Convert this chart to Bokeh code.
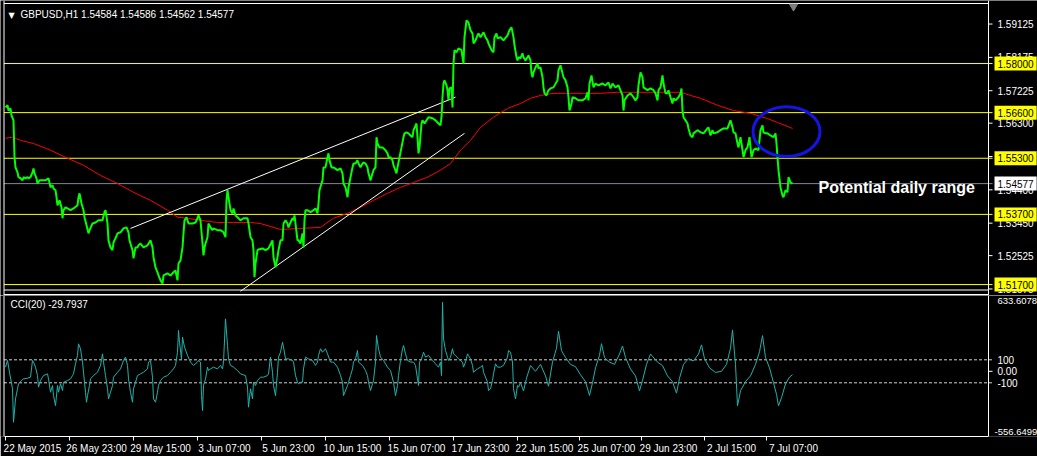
from bokeh.plotting import figure
from bokeh.layouts import column
from bokeh.models import Range1d, FixedTicker, LinearAxis, Span, Label
from bokeh.core.properties import value
from bokeh.embed import file_html
from bokeh.resources import INLINE

# ---------------- data ----------------
symbol_title = "GBPUSD,H1  1.54584 1.54586 1.54562 1.54577"
cci_title = "CCI(20) -29.7937"
note_text = "Potential daily range"

price_bar = [
    0, 2, 3, 5, 6, 8, 9, 10, 12, 13,
    15, 17, 18, 20, 22, 23, 25, 27, 28, 29,
    31, 32, 34, 37, 40, 43, 45, 47, 48, 50,
    51, 52, 54, 56, 57, 58, 60, 62, 65, 68,
    72, 73, 74, 76, 78, 79, 81, 83, 84, 87,
    90, 93, 97, 99, 100, 102, 103, 105, 107, 108,
    110, 112, 115, 118, 121, 123, 124, 127, 128, 130,
    132, 133, 135, 138, 142, 145, 147, 148, 150, 152,
    153, 155, 157, 158, 162, 165, 168, 170, 171, 172,
    173, 175, 177, 178, 179, 181, 183, 187, 190, 192,
    193, 195, 197, 198, 199, 200, 202, 203, 205, 207,
    208, 212, 215, 218, 220, 221, 222, 223, 225, 227,
    228, 230, 232, 233, 235, 238, 242, 243, 245, 247,
    248, 249, 250, 252, 253, 257, 260, 263, 267, 268,
    270, 272, 273, 275, 277, 278, 280, 282, 283, 285,
    287, 288, 289, 290, 292, 293, 295, 297, 298, 299,
    300, 302, 305, 308, 310, 312, 313, 314, 316, 317,
    318, 320, 322, 323, 324, 326, 328, 332, 335, 337,
    338, 340, 342, 343, 345, 347, 348, 350, 352, 353,
    355, 357, 358, 360, 362, 363, 365, 367, 368, 370,
    371, 372, 374, 377, 380, 382, 383, 385, 387, 388,
    391, 392, 394, 396, 398, 399, 401, 403, 405, 407,
    408, 411, 412, 413, 414, 416, 417, 419, 421, 423,
    427, 430, 433, 435, 436, 437, 438, 439, 441, 442,
    443, 444, 446, 447, 448, 449, 451, 453, 456, 457,
    458, 459, 461, 463, 465, 467, 468, 470, 472, 473,
    475, 478, 480, 482, 483, 486, 488, 489, 491, 492,
    495, 498, 502, 504, 506, 508, 509, 511, 512, 513,
    515, 517, 518, 520, 522, 523, 525, 526, 527, 528,
    530, 532, 533, 535, 537, 538, 539, 541, 543, 545,
    548, 552, 553, 555, 557, 558, 560, 562, 563, 564,
    566, 567, 570, 573, 577, 580, 582, 583, 584, 586,
    588, 590, 593, 597, 600, 603, 605, 607, 610, 613,
    617, 618, 619, 622, 625, 628, 630, 632, 633, 635,
    637, 638, 642, 645, 648, 650, 652, 653, 655, 657,
    658, 660, 662, 663, 665, 667, 668, 670, 673, 675,
    676, 677, 678, 680, 682, 683, 685, 687, 688, 692,
    695, 698, 702, 703, 705, 707, 708, 712, 715, 718,
    722, 725, 727, 728, 730, 732, 733, 735, 737, 738,
    740, 742, 744, 746, 748, 750, 753, 755, 757, 758,
    760, 762, 765, 768, 770, 771, 772, 773, 775, 777,
    778, 780, 782, 783, 785, 787,
]
price_close = [
    1.5675, 1.5681, 1.5666, 1.5672, 1.5652, 1.5638, 1.5533, 1.5504, 1.5490, 1.5476,
    1.5473, 1.5467, 1.5476, 1.5473, 1.5476, 1.5473, 1.5476, 1.5490, 1.5501, 1.5487,
    1.5473, 1.5458, 1.5467, 1.5467, 1.5467, 1.5473, 1.5447, 1.5453, 1.5444, 1.5439,
    1.5419, 1.5396, 1.5410, 1.5390, 1.5359, 1.5382, 1.5390, 1.5387, 1.5382, 1.5387,
    1.5396, 1.5419, 1.5430, 1.5401, 1.5382, 1.5362, 1.5339, 1.5316, 1.5325, 1.5344,
    1.5347, 1.5353, 1.5353, 1.5376, 1.5382, 1.5344, 1.5296, 1.5276, 1.5268, 1.5290,
    1.5302, 1.5316, 1.5319, 1.5330, 1.5333, 1.5319, 1.5296, 1.5268, 1.5245, 1.5276,
    1.5276, 1.5282, 1.5287, 1.5276, 1.5282, 1.5296, 1.5276, 1.5248, 1.5219, 1.5205,
    1.5196, 1.5182, 1.5173, 1.5196, 1.5202, 1.5196, 1.5205, 1.5210, 1.5196, 1.5182,
    1.5230, 1.5239, 1.5276, 1.5316, 1.5353, 1.5362, 1.5344, 1.5344, 1.5347, 1.5359,
    1.5367, 1.5353, 1.5287, 1.5253, 1.5276, 1.5287, 1.5305, 1.5344, 1.5333, 1.5325,
    1.5330, 1.5325, 1.5325, 1.5319, 1.5305, 1.5410, 1.5439, 1.5419, 1.5382, 1.5373,
    1.5387, 1.5367, 1.5362, 1.5359, 1.5353, 1.5359, 1.5359, 1.5344, 1.5305, 1.5296,
    1.5268, 1.5191, 1.5230, 1.5268, 1.5270, 1.5273, 1.5268, 1.5273, 1.5296, 1.5248,
    1.5219, 1.5248, 1.5268, 1.5296, 1.5296, 1.5344, 1.5353, 1.5344, 1.5333, 1.5347,
    1.5359, 1.5353, 1.5367, 1.5344, 1.5296, 1.5296, 1.5287, 1.5316, 1.5276, 1.5353,
    1.5382, 1.5382, 1.5376, 1.5382, 1.5387, 1.5373, 1.5401, 1.5439, 1.5458, 1.5467,
    1.5504, 1.5504, 1.5533, 1.5544, 1.5524, 1.5504, 1.5504, 1.5496, 1.5501, 1.5487,
    1.5458, 1.5447, 1.5419, 1.5447, 1.5476, 1.5504, 1.5515, 1.5515, 1.5524, 1.5515,
    1.5504, 1.5515, 1.5518, 1.5515, 1.5504, 1.5487, 1.5467, 1.5487, 1.5496, 1.5504,
    1.5590, 1.5572, 1.5561, 1.5561, 1.5553, 1.5544, 1.5533, 1.5533, 1.5524, 1.5510,
    1.5487, 1.5504, 1.5533, 1.5561, 1.5590, 1.5601, 1.5604, 1.5601, 1.5595, 1.5590,
    1.5610, 1.5629, 1.5590, 1.5544, 1.5561, 1.5629, 1.5638, 1.5629, 1.5638, 1.5647,
    1.5644, 1.5638, 1.5629, 1.5624, 1.5647, 1.5704, 1.5743, 1.5752, 1.5738, 1.5724,
    1.5695, 1.5729, 1.5732, 1.5675, 1.5800, 1.5838, 1.5832, 1.5843, 1.5838, 1.5818,
    1.5800, 1.5875, 1.5923, 1.5917, 1.5895, 1.5886, 1.5857, 1.5866, 1.5880, 1.5886,
    1.5875, 1.5889, 1.5875, 1.5866, 1.5857, 1.5838, 1.5832, 1.5875, 1.5886, 1.5872,
    1.5875, 1.5866, 1.5880, 1.5895, 1.5903, 1.5875, 1.5852, 1.5818, 1.5809, 1.5818,
    1.5815, 1.5829, 1.5818, 1.5809, 1.5818, 1.5823, 1.5809, 1.5772, 1.5761, 1.5775,
    1.5789, 1.5800, 1.5786, 1.5789, 1.5761, 1.5732, 1.5715, 1.5709, 1.5724, 1.5729,
    1.5732, 1.5752, 1.5781, 1.5795, 1.5772, 1.5761, 1.5752, 1.5732, 1.5704, 1.5666,
    1.5686, 1.5704, 1.5701, 1.5695, 1.5695, 1.5701, 1.5718, 1.5695, 1.5743, 1.5766,
    1.5732, 1.5743, 1.5738, 1.5743, 1.5738, 1.5746, 1.5729, 1.5743, 1.5732, 1.5738,
    1.5709, 1.5666, 1.5695, 1.5709, 1.5715, 1.5704, 1.5695, 1.5704, 1.5738, 1.5775,
    1.5761, 1.5732, 1.5724, 1.5729, 1.5724, 1.5715, 1.5695, 1.5724, 1.5732, 1.5766,
    1.5743, 1.5715, 1.5715, 1.5724, 1.5704, 1.5686, 1.5701, 1.5695, 1.5704, 1.5715,
    1.5729, 1.5666, 1.5647, 1.5638, 1.5629, 1.5615, 1.5595, 1.5590, 1.5601, 1.5610,
    1.5604, 1.5601, 1.5615, 1.5618, 1.5595, 1.5610, 1.5601, 1.5604, 1.5610, 1.5615,
    1.5615, 1.5638, 1.5618, 1.5604, 1.5601, 1.5572, 1.5561, 1.5590, 1.5553, 1.5533,
    1.5553, 1.5561, 1.5590, 1.5533, 1.5553, 1.5558, 1.5553, 1.5610, 1.5624, 1.5604,
    1.5601, 1.5601, 1.5595, 1.5590, 1.5601, 1.5572, 1.5533, 1.5496, 1.5447, 1.5424,
    1.5419, 1.5439, 1.5433, 1.5476, 1.5461, 1.54577,
]

ma_bar = [0, 7, 15, 28, 45, 62, 78, 95, 112, 128,
          145, 162, 172, 182, 195, 212, 228, 245, 255, 275,
          295, 315, 328, 342, 355, 368, 382, 395, 408, 422,
          435, 445, 455, 465, 475, 488, 502, 515, 525, 535,
          548, 562, 578, 595, 612, 628, 645, 662, 675, 685,
          695, 712, 728, 745, 762, 772, 787]
ma_value = [1.5587, 1.5590, 1.5581, 1.5572, 1.5553, 1.5530, 1.5510, 1.5481, 1.5458, 1.5433,
            1.5410, 1.5382, 1.5362, 1.5359, 1.5353, 1.5347, 1.5347, 1.5347, 1.5344, 1.5327,
            1.5330, 1.5333, 1.5359, 1.5373, 1.5390, 1.5410, 1.5430, 1.5447, 1.5461, 1.5476,
            1.5496, 1.5515, 1.5553, 1.5581, 1.5618, 1.5647, 1.5672, 1.5686, 1.5701, 1.5709,
            1.5715, 1.5715, 1.5715, 1.5715, 1.5718, 1.5718, 1.5718, 1.5718, 1.5718, 1.5709,
            1.5701, 1.5681, 1.5666, 1.5658, 1.5643, 1.5632, 1.5615]

level_prices = [1.58000, 1.56600, 1.55300, 1.53700, 1.51700]
current_price = 1.54577

upper_trend_bar = [125, 450]
upper_trend_price = [1.5330, 1.5704]
lower_trend_bar = [235, 459]
lower_trend_price = [1.5151, 1.5601]

ellipse_bar = [781]
ellipse_price = [1.5606]
ellipse_span_bars = 67
ellipse_span_price = 0.0142

price_ticks = [1.59125, 1.58175, 1.57225, 1.56300, 1.55350, 1.54400, 1.53450, 1.52525, 1.51575]

cci_bar = [
    0, 2, 4, 7, 8, 10, 12, 13, 16, 18,
    22, 25, 27, 28, 30, 32, 33, 35, 37, 38,
    42, 43, 45, 47, 48, 50, 52, 53, 55, 57,
    58, 62, 65, 67, 68, 70, 72, 73, 75, 77,
    78, 80, 81, 82, 84, 85, 88, 92, 95, 97,
    98, 100, 102, 103, 105, 107, 108, 112, 115, 118,
    120, 122, 123, 125, 127, 128, 130, 132, 135, 138,
    142, 143, 145, 147, 148, 150, 152, 153, 155, 158,
    162, 165, 168, 170, 172, 173, 174, 176, 177, 179,
    182, 185, 188, 192, 193, 195, 196, 197, 198, 200,
    202, 203, 205, 208, 212, 215, 217, 218, 220, 222,
    223, 225, 228, 232, 235, 240, 242, 243, 245, 247,
    248, 250, 252, 255, 258, 262, 263, 265, 267, 268,
    270, 272, 273, 275, 277, 278, 280, 283, 287, 288,
    290, 292, 293, 295, 297, 298, 300, 303, 307, 310,
    312, 313, 315, 317, 320, 322, 325, 328, 332, 335,
    337, 338, 342, 343, 345, 347, 348, 350, 352, 353,
    357, 360, 362, 363, 365, 367, 368, 370, 371, 373,
    375, 378, 382, 385, 388, 390, 392, 393, 395, 397,
    398, 400, 402, 405, 408, 410, 412, 413, 414, 416,
    418, 420, 423, 427, 430, 433, 435, 436, 437, 438,
    440, 442, 443, 445, 447, 448, 450, 453, 457, 458,
    460, 462, 463, 465, 467, 468, 472, 475, 477, 478,
    482, 483, 485, 487, 488, 490, 492, 495, 498, 502,
    503, 505, 507, 508, 510, 512, 513,
    515, 518, 521, 525, 530, 535, 540, 543, 547, 551,
    553, 556, 560, 565, 570, 575, 580, 584, 587, 590,
    594, 596, 599, 604, 609, 614, 617, 620, 625, 630,
    634, 637, 641, 645, 647, 652, 657, 662, 667, 671,
    674, 678, 683, 688, 693, 696, 699, 704, 710, 716,
    721, 725, 727, 730, 732, 735, 740, 745, 750, 754,
    757, 760, 764, 768, 771, 773, 776, 780, 784, 787,
]
cci_value = [
    36, 94, -8, -152, -443, -240, -152, -109, -80, -66,
    -60, -51, 94, 80, 36, -37, -138, -80, -51, -37,
    -22, -66, -182, -124, -211, -298, -124, -182, -109, -167,
    -95, -80, -66, -37, -22, 65, 138, 239, 196, 80,
    -8, -182, -269, -211, -124, -66, -37, -8, 51, 152,
    80, -37, -152, -240, -182, -124, -51, -8, 21, 94,
    123, 51, -66, -182, -269, -152, -95, -37, -22, -8,
    21, 80, 94, -51, -240, -269, -182, -124, -80, -51,
    -37, -8, 21, 51, 166, 355, 253, 108, 297, 210,
    138, 80, 51, 80, 94, 80, -211, -341, -124, -66,
    36, 7, 21, 36, 21, 51, 21, 80, 456, 224,
    108, 51, 36, 7, -22, -37, -138, -312, -152, -240,
    -95, -124, -80, -51, -51, -37, -22, 123, -8, -124,
    -211, -8, 123, 166, 253, 210, 108, 108, 94, 80,
    -37, -95, -109, -95, -95, 21, 123, 108, 94, 51,
    80, 138, 196, 166, 196, 152, 80, 80, 36, -37,
    -95, -211, -124, -95, -37, 21, 80, 108, 181, 80,
    51, 7, -37, -95, -167, -109, -80, 80, 311, 196,
    123, 94, 36, 7, -95, -211, -124, -37, 94, 196,
    224, 152, 94, 80, 80, 51, -66, -124, 80, 108,
    166, 123, 138, 94, 65, 36, 80, -37, 600, 282,
    181, 123, 94, 123, 196, 152, 138, 108, 80, 36,
    80, 152, 138, 108, 51, -8, 21, 36, 51, -8,
    -95, -167, -152, -80, -22, 65, 36, 36, 51, 123,
    181, 166, 80, -152, -240, -124, -138,
    -100, -170, -60, 50, 0, 60, -40, -130, 80, 200,
    350, 180, 120, 60, 40, -30, -90, -210, -100, 30,
    140, 240, 120, 80, 60, 150, 220, 120, 20, -40,
    -170, -80, 60, 150, 130, 80, 50, -40, -90, -190,
    -60, 60, 110, 90, 150, 230, 110, 30, -10, 0,
    60, 200, 360, 60, -300, -170, -90, -40, 60, 170,
    310, 120, 30, -100, -200, -300, -230, -110, -50, -29.7937,
]
cci_levels = [100, -100]
cci_ticks = [100, 0, -100]
cci_tick_labels = ["100", "0.00", "-100"]
cci_max = 633.6078
cci_min = -556.6499

date_tick_bar = [0, 64, 128, 192, 256, 320, 384, 448, 512, 574, 636, 699, 761]
date_tick_label = ["22 May 2015", "26 May 23:00", "29 May 15:00", "3 Jun 07:00", "5 Jun 23:00",
                   "10 Jun 15:00", "15 Jun 07:00", "17 Jun 23:00", "22 Jun 15:00",
                   "25 Jun 07:00", "29 Jun 23:00", "2 Jul 15:00", "7 Jul 07:00"]

# ---------------- layout constants ----------------
FONT = "Liberation Sans"
FS = "10px"
W = 1037
X0 = -5                # bar at the canvas' left edge (1 px per bar)
XEND = X0 + W
RIGHT = 983            # bar where the chart border / price scale begins
LEFT_B = -1.5          # outer left border
n = min(len(price_bar), len(price_close))
m = min(len(cci_bar), len(cci_value))

PX = 0.000285                     # price per pixel
P_TOP = 1.59796
P_BOT = P_TOP - 295 * PX
CPX = 8.696                       # CCI units per pixel
C_TOP = (370.8 - 295) * CPX
C_BOT = (370.8 - 436) * CPX


def base_fig(height, yr):
    f = figure(frame_width=W, frame_height=height,
               x_range=Range1d(X0, XEND), y_range=yr,
               x_axis_location=None, y_axis_location=None,
               output_backend="svg", toolbar_location=None,
               min_border_left=0, min_border_right=0, min_border_top=0,
               min_border_bottom=0,
               background_fill_color="black", border_fill_color="black",
               outline_line_color=None)
    f.grid.visible = False
    f.add_layout(Span(location=RIGHT, dimension="height", line_color="white", line_width=1))
    f.add_layout(Span(location=LEFT_B, dimension="height", line_color="white", line_width=1))
    return f


# ---------------- price panel ----------------
p1 = base_fig(295, Range1d(P_BOT, P_TOP))

# level lines
p1.segment(x0=[LEFT_B] * len(level_prices), y0=level_prices,
           x1=[RIGHT + 4] * len(level_prices), y1=level_prices,
           line_color="#FFFF00", line_width=1)
p1.segment(x0=[LEFT_B], y0=[current_price], x1=[RIGHT + 4], y1=[current_price],
           line_color="#7D8A99", line_width=1)
# borders: top of chart, bottom of price panel, top of indicator panel
for yb in (P_TOP - 3 * PX, P_TOP - 289.5 * PX, P_TOP - 294 * PX):
    p1.segment(x0=[LEFT_B], y0=[yb], x1=[RIGHT], y1=[yb], line_color="white", line_width=1)

p1.line(ma_bar, ma_value, line_color="#FF0000", line_width=1)
p1.line(upper_trend_bar, upper_trend_price, line_color="white", line_width=1)
p1.line(lower_trend_bar, lower_trend_price, line_color="white", line_width=1)
p1.line(price_bar[:n], price_close[:n], line_color="#00FF00", line_width=2)
p1.ellipse(x=ellipse_bar, y=ellipse_price, width=ellipse_span_bars, height=ellipse_span_price,
           fill_color=None, line_color="#1414E6", line_width=3)
# chart-shift marker at the top
p1.scatter(x=[price_bar[n - 1] + 1], y=[P_TOP - 6 * PX], marker="inverted_triangle",
           size=8, fill_color="#808080", line_color="#808080")

# price scale (ticks + labels)
p1.segment(x0=[RIGHT] * len(price_ticks), y0=price_ticks,
           x1=[RIGHT + 4] * len(price_ticks), y1=price_ticks, line_color="white")
p1.text(x=[RIGHT + 9] * len(price_ticks), y=price_ticks,
        text=[f"{t:.5f}" for t in price_ticks],
        text_font=value(FONT), text_font_size=FS, text_color="white",
        text_align="left", text_baseline="middle")

for lv in level_prices:
    p1.add_layout(Label(x=RIGHT + 6, y=lv, text=f"{lv:.5f}", text_align="left",
                        text_baseline="middle", text_color="black", text_font=FONT,
                        text_font_size=FS, background_fill_color="#FFFF00", padding=3))
p1.add_layout(Label(x=RIGHT + 6, y=current_price, text=f"{current_price:.5f}",
                    text_align="left", text_baseline="middle", text_color="black",
                    text_font=FONT, text_font_size=FS, background_fill_color="white",
                    padding=3))

p1.add_layout(Label(x=3, y=P_TOP - 10 * PX, text="\u25BC", text_align="left",
                    text_baseline="top", text_color="white", text_font="DejaVu Sans",
                    text_font_size="8px"))
p1.add_layout(Label(x=15, y=P_TOP - 8 * PX, text=symbol_title, text_align="left",
                    text_baseline="top", text_color="white", text_font=FONT,
                    text_font_size=FS))
p1.add_layout(Label(x=813, y=P_TOP - 187 * PX, text=note_text, text_align="left",
                    text_baseline="middle", text_color="white",
                    text_font=FONT, text_font_style="bold", text_font_size="16px"))

# ---------------- CCI panel ----------------
p2 = base_fig(141, Range1d(C_BOT, C_TOP))

p2.segment(x0=[LEFT_B] * len(cci_levels), y0=cci_levels,
           x1=[RIGHT + 5] * len(cci_levels), y1=cci_levels,
           line_color="#D0D0D0", line_width=1, line_dash="3 2")
p2.segment(x0=[RIGHT], y0=[0], x1=[RIGHT + 4], y1=[0], line_color="white")
p2.line(cci_bar[:m], cci_value[:m], line_color="#20B2AA", line_width=1)

p2.text(x=[RIGHT + 9] * len(cci_ticks), y=cci_ticks, text=cci_tick_labels,
        text_font=value(FONT), text_font_size=FS, text_color="white",
        text_align="left", text_baseline="middle")
p2.add_layout(Label(x=RIGHT + 9, y=cci_max, text=f"{cci_max:.4f}", text_align="left",
                    text_baseline="top", text_color="white", text_font=FONT,
                    text_font_size="9.5px"))
p2.add_layout(Label(x=RIGHT + 6, y=cci_min, text=f"{cci_min:.4f}", text_align="left",
                    text_baseline="bottom", text_color="white", text_font=FONT,
                    text_font_size="9.5px"))
p2.add_layout(Label(x=5, y=(370.8 - 298) * CPX, text=cci_title, text_align="left",
                    text_baseline="top", text_color="white", text_font=FONT, text_font_size=FS))

# time axis: minor ticks mark the real times, labels sit to the right of each tick
label_pos = [b + 27 for b in date_tick_bar]
date_axis = LinearAxis(ticker=FixedTicker(ticks=label_pos, minor_ticks=date_tick_bar),
                       bounds=(LEFT_B, RIGHT))
date_axis.axis_line_color = "white"
date_axis.major_tick_line_color = None
date_axis.major_tick_in = 0
date_axis.major_tick_out = 4
date_axis.minor_tick_line_color = "white"
date_axis.minor_tick_in = 0
date_axis.minor_tick_out = 4
date_axis.major_label_standoff = 2
date_axis.major_label_text_color = "white"
date_axis.major_label_text_font = FONT
date_axis.major_label_text_font_size = FS
date_axis.major_label_overrides = {pos: lab for pos, lab in zip(label_pos, date_tick_label)}
p2.add_layout(date_axis, "below")

layout = column(p1, p2)
open("out.html", "w").write(file_html(layout, INLINE, title="GBPUSD H1"))
